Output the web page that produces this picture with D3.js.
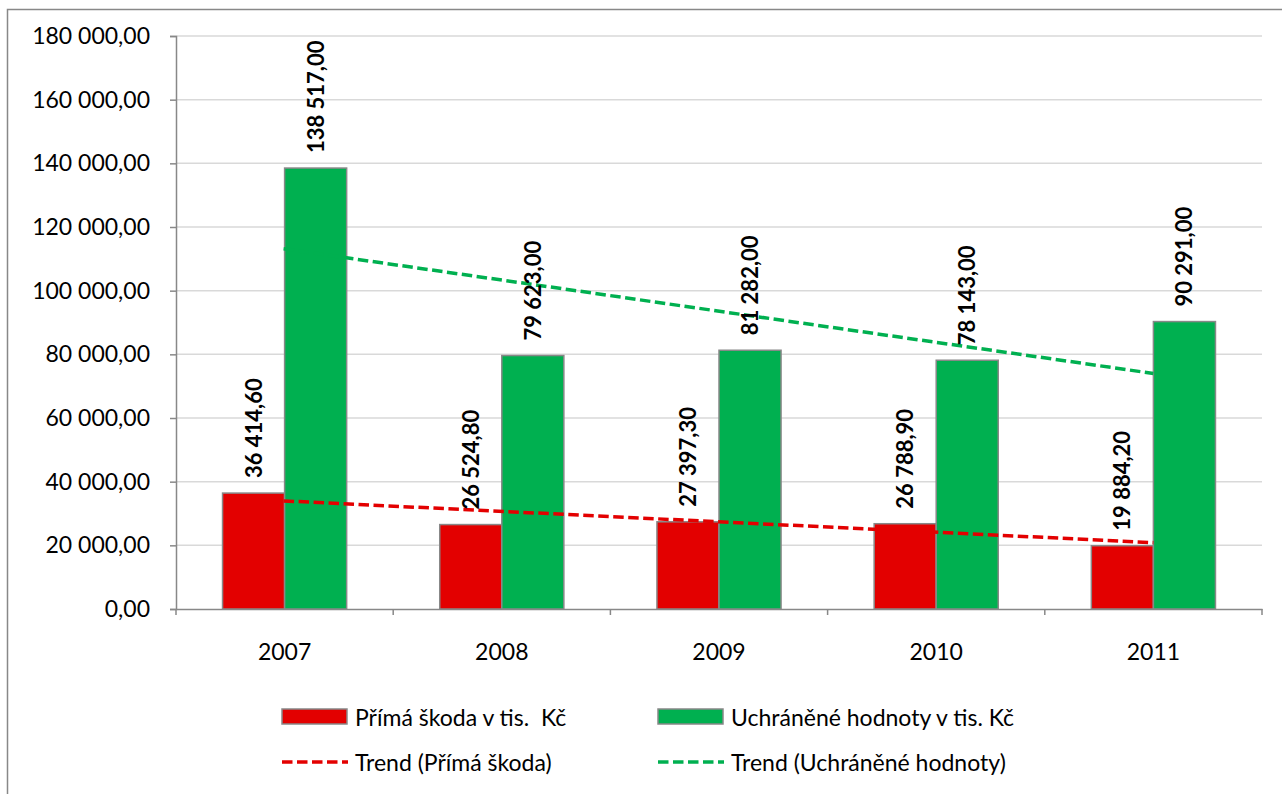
<!DOCTYPE html>
<html>
<head>
<meta charset="utf-8">
<script src="https://cdn.jsdelivr.net/npm/d3@7"></script>
<style>
  html, body { margin: 0; padding: 0; background: #fff; }
  svg { display: block; font-family: Lato, "Open Sans", sans-serif; }
  .legend text { white-space: pre; }
</style>
</head>
<body>
<svg id="chart" width="1282" height="794"></svg>
<script>
// Data
const years = ["2007", "2008", "2009", "2010", "2011"];
const primaSkoda = [36414.6, 26524.8, 27397.3, 26788.9, 19884.2];
const uchraneneHodnoty = [138517, 79623, 81282, 78143, 90291];
const yTicks = [0, 20000, 40000, 60000, 80000, 100000, 120000, 140000, 160000, 180000];
const seriesNames = ["Přímá škoda v tis.  Kč", "Uchráněné hodnoty v tis. Kč"];
const trendNames = ["Trend (Přímá škoda)", "Trend (Uchráněné hodnoty)"];
const colors = ["#e30000", "#00b050"];

const locale = d3.formatLocale({ decimal: ",", thousands: "\u00a0", grouping: [3] });
const fmt = locale.format(",.2f");

const svg = d3.select("#chart");
const plot = { left: 176, right: 1262, top: 36, bottom: 609 };
const fontSize = 23;

// Outer frame
svg.append("rect")
  .attr("x", 7.5).attr("y", 9.5)
  .attr("width", 1300).attr("height", 800)
  .attr("fill", "none").attr("stroke", "#888").attr("stroke-width", 1.5);

const x = d3.scaleBand().domain(years).range([plot.left, plot.right]).paddingInner(0).paddingOuter(0);
const y = d3.scaleLinear().domain([0, 180000]).range([plot.bottom, plot.top]);

const groupW = x.bandwidth() * (2 / 3.5);
const barW = groupW / 2;

// Gridlines
svg.append("g")
  .selectAll("line")
  .data(yTicks.filter(d => d > 0))
  .join("line")
  .attr("x1", plot.left).attr("x2", plot.right)
  .attr("y1", d => y(d)).attr("y2", d => y(d))
  .attr("stroke", "#d9d9d9").attr("stroke-width", 1.5);

// Y axis
const yAxis = svg.append("g")
  .attr("transform", `translate(${plot.left},0)`)
  .call(d3.axisLeft(y).tickValues(yTicks).tickSize(6).tickPadding(20).tickFormat(fmt));
yAxis.select(".domain").attr("stroke", "#888").attr("stroke-width", 1.5);
yAxis.selectAll(".tick line").attr("stroke", "#888").attr("stroke-width", 1.5);
yAxis.selectAll(".tick text")
  .attr("font-size", fontSize).attr("fill", "#000")
  .attr("font-family", "Lato, 'Open Sans', sans-serif");

// X axis
const xAxis = svg.append("g")
  .attr("transform", `translate(0,${plot.bottom})`)
  .call(d3.axisBottom(x).tickSize(0).tickPadding(35));
xAxis.select(".domain").attr("stroke", "#888").attr("stroke-width", 1.5);
xAxis.selectAll(".tick text")
  .attr("font-size", fontSize).attr("fill", "#000")
  .attr("font-family", "Lato, 'Open Sans', sans-serif");
// category boundary ticks
const bounds = years.map(d => x(d)).concat([plot.right]);
svg.append("g")
  .selectAll("line")
  .data(bounds)
  .join("line")
  .attr("x1", d => d).attr("x2", d => d)
  .attr("y1", plot.bottom).attr("y2", plot.bottom + 6)
  .attr("stroke", "#888").attr("stroke-width", 1.5);

// Bars
const series = [primaSkoda, uchraneneHodnoty];
series.forEach((vals, si) => {
  const g = svg.append("g");
  g.selectAll("rect")
    .data(vals)
    .join("rect")
    .attr("x", (d, i) => x(years[i]) + x.bandwidth() / 2 - barW + si * barW)
    .attr("y", d => y(d))
    .attr("width", barW)
    .attr("height", d => plot.bottom - y(d))
    .attr("fill", colors[si])
    .attr("stroke", "#888").attr("stroke-width", 1.5);
});

// Linear trend lines (least squares over category index)
function trend(vals) {
  const n = vals.length;
  const xs = vals.map((d, i) => i + 1);
  const mx = d3.mean(xs), my = d3.mean(vals);
  const b = d3.sum(xs.map((xi, i) => (xi - mx) * (vals[i] - my))) / d3.sum(xs.map(xi => (xi - mx) ** 2));
  const a = my - b * mx;
  return [[0, a + b * 1], [n - 1, a + b * n]];
}
series.forEach((vals, si) => {
  const t = trend(vals);
  svg.append("line")
    .attr("x1", x(years[t[0][0]]) + x.bandwidth() / 2 - 1)
    .attr("y1", y(t[0][1]))
    .attr("x2", x(years[t[1][0]]) + x.bandwidth() / 2)
    .attr("y2", y(t[1][1]))
    .attr("stroke", colors[si]).attr("stroke-width", 3.5)
    .attr("stroke-dasharray", "10.5,4.5");
});

// Value labels (rotated)
series.forEach((vals, si) => {
  svg.append("g")
    .selectAll("text")
    .data(vals)
    .join("text")
    .attr("transform", (d, i) => {
      const cx = x(years[i]) + x.bandwidth() / 2 - barW / 2 + si * barW;
      return `translate(${cx + 8},${y(d) - 15}) rotate(-90)`;
    })
    .attr("text-anchor", "start")
    .attr("font-size", 22).attr("font-weight", "bold").attr("fill", "#000")
    .text(d => fmt(d));
});

// Legend
const legend = svg.append("g").attr("class", "legend");
const legendCols = [282, 658];
seriesNames.forEach((name, i) => {
  legend.append("rect")
    .attr("x", legendCols[i]).attr("y", 709)
    .attr("width", 65).attr("height", 15)
    .attr("fill", colors[i]).attr("stroke", "#888").attr("stroke-width", 1.5);
  legend.append("text")
    .attr("x", legendCols[i] + 73).attr("y", 717)
    .attr("dominant-baseline", "central")
    .attr("font-size", fontSize).attr("fill", "#000")
    .text(name);
});
trendNames.forEach((name, i) => {
  legend.append("line")
    .attr("x1", legendCols[i]).attr("x2", legendCols[i] + 66)
    .attr("y1", 762).attr("y2", 762)
    .attr("stroke", colors[i]).attr("stroke-width", 3.5)
    .attr("stroke-dasharray", "10.5,4.5");
  legend.append("text")
    .attr("x", legendCols[i] + 73).attr("y", 762)
    .attr("dominant-baseline", "central")
    .attr("font-size", fontSize).attr("fill", "#000")
    .text(name);
});
</script>
</body>
</html>
